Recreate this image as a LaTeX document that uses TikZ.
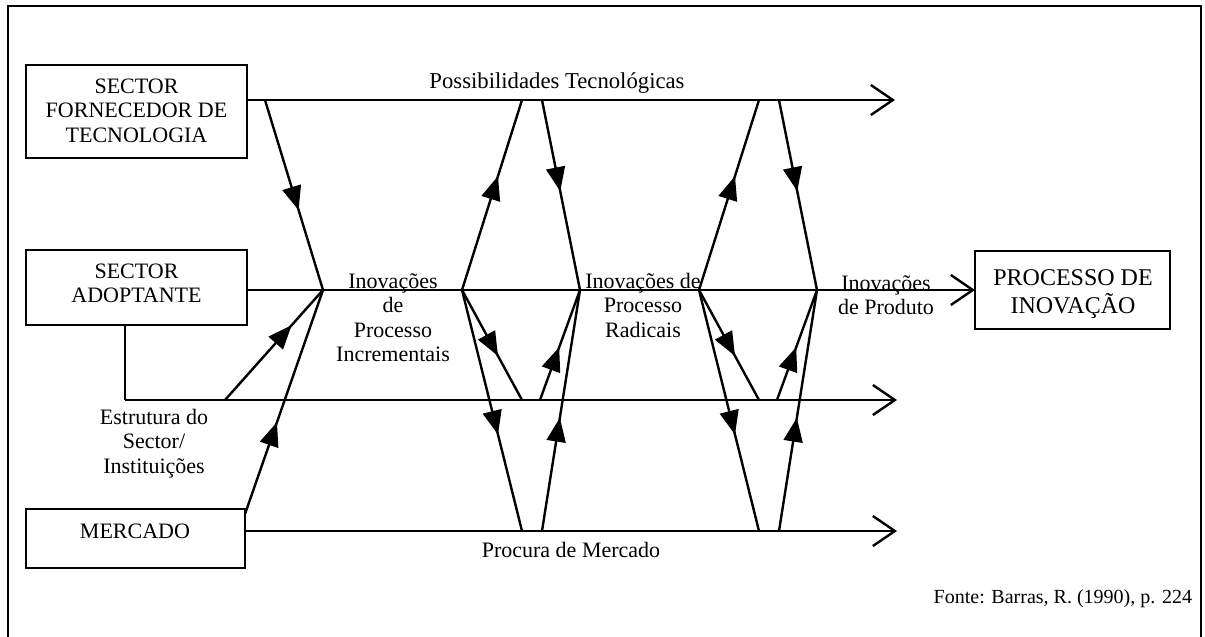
\documentclass[tikz,border=0pt]{standalone}
\usepackage{fontspec}
\setmainfont{Liberation Serif}
\usetikzlibrary{arrows.meta,decorations.markings}
\newcommand\lns[1]{\begin{tabular}[t]{@{}c@{}}#1\end{tabular}}
\begin{document}
\begin{tikzpicture}[x=1pt,y=-1pt,
  every node/.style={font=\fontsize{22}{24.5}\selectfont, inner sep=0pt, outer sep=0pt},
  lbl/.style={anchor=base},
  box/.style={draw, line width=2.8pt},
  ln/.style={line width=2.4pt},
  openarr/.style={ln, -{Straight Barb[length=22pt,width=30pt]}},
  midarr/.style={ln, postaction={decorate}, decoration={markings, mark=at position #1 with {\arrow{Triangle[length=24pt,width=19pt]}}}},
]
\useasboundingbox (0,0) rectangle (1205,637);
% outer frame
\draw[line width=2.4pt] (8,645) -- (8,6) -- (1201,6) -- (1201,645);

% boxes
\node[box, minimum width=221pt, minimum height=93pt] (b1) at (136.5,111.5) {};
\node[box, minimum width=221pt, minimum height=75pt] (b2) at (136.5,287.5) {};
\node[box, minimum width=219pt, minimum height=59pt] (b3) at (135.5,538.5) {};
\node[box, minimum width=195pt, minimum height=78pt] (b4) at (1072.5,290) {};

\node[lbl] (b1t) at (136.5,93) {\lns{SECTOR\\FORNECEDOR DE\\TECNOLOGIA}};
\node[lbl] (b2t) at (136.5,278) {\lns{SECTOR\\ADOPTANTE}};
\node[lbl] (b3t) at (135,538) {MERCADO};
\node[lbl, font=\fontsize{24}{27}\selectfont] (b4t) at (1073,285) {\lns{PROCESSO DE\\INOVAÇÃO}};

% labels
\node[lbl, font=\fontsize{22.7}{25}\selectfont] (lpt) at (557,88) {Possibilidades Tecnológicas};
\node[lbl] (lii) at (393,288) {\lns{Inovações\\de\\Processo\\Incrementais}};
\node[lbl] (lir) at (643,288) {\lns{Inovações de\\Processo\\Radicais}};
\node[lbl] (lip) at (886,290) {\lns{Inovações\\de Produto}};
\node[lbl] (les) at (154,424) {\lns{Estrutura do\\Sector/\\Instituições}};
\node[lbl] (lpm) at (571,557) {Procura de Mercado};
\node[lbl, anchor=base east, font=\fontsize{20}{24}\selectfont] (lfo) at (1192,603) {Fonte: Barras, R. (1990), p. 224};

% main line coordinates
\coordinate (t0) at (b1.east |- 0,100);
\coordinate (t1) at (895,100);
\coordinate (m0) at (b2.east |- 0,290);
\coordinate (s0) at (125,325);
\coordinate (c0) at (125,400);
\coordinate (s1) at (897,400);
\coordinate (d0) at (b3.east |- 0,531);
\coordinate (d1) at (897,531);

\draw[openarr] (t0) -- (t1);
\draw[openarr] (m0) -- (b4.west);
\draw[ln] (s0) -- (c0);
\draw[openarr] (c0) -- (s1);
\draw[openarr] (d0) -- (d1);

% left junction
\coordinate (J) at (323,290);
\coordinate (jt) at (265,100);
\coordinate (js) at (225,400);
\coordinate (jm) at (b3.east |- 0,514);
\draw[midarr=0.58] (jt) -- (J);
\draw[midarr=0.68] (js) -- (J);
\draw[midarr=0.41] (jm) -- (J);

% diamonds
\foreach \k/\dx in {1/0, 2/237} {
  \coordinate (L\k) at (462+\dx,290);
  \coordinate (R\k) at (580+\dx,290);
  \coordinate (Ta\k) at (522+\dx,100);
  \coordinate (Tb\k) at (542+\dx,100);
  \coordinate (Ua\k) at (522+\dx,400);
  \coordinate (Ub\k) at (540+\dx,400);
  \coordinate (Da\k) at (522+\dx,531);
  \coordinate (Db\k) at (542+\dx,531);
  \draw[midarr=0.6] (L\k) -- (Ta\k);
  \draw[midarr=0.48] (Tb\k) -- (R\k);
  \draw[midarr=0.6] (L\k) -- (Ua\k);
  \draw[midarr=0.6] (L\k) -- (Da\k);
  \draw[midarr=0.48] (Ub\k) -- (R\k);
  \draw[midarr=0.47] (Db\k) -- (R\k);
}
\end{tikzpicture}
\end{document}
